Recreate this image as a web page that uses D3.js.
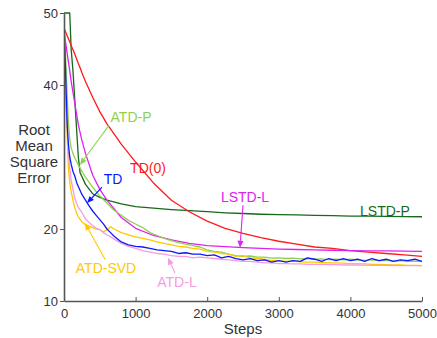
<!DOCTYPE html>
<html>
<head>
<meta charset="utf-8">
<script src="https://cdn.jsdelivr.net/npm/d3@7"></script>
<style>
  html, body { margin: 0; padding: 0; background: #fff; }
  svg text { font-family: "Liberation Sans", Arial, sans-serif; }
</style>
</head>
<body>
<svg id="chart" width="437" height="338"></svg>
<script>
// Step grids: a coarse one for the smooth curves, a fine one for the noisy ones
const stepsCoarse = [0, 50, 80, 100, 125, 150, 200, 225, 250, 300, 400, 500, 600, 800, 1000, 1250, 1500, 1750,
  2000, 2250, 2500, 2750, 3000, 3250, 3500, 3750, 4000, 4250, 4500, 4750, 5000];
const stepsFine = [0, 10, 20, 30, 45, 60, 80, 100, 125, 150, 175, 200, 250, 300, 350, 400, 450, 500,
  550, 600, 650, 700, 800, 900, 1000, 1100, 1200, 1300, 1400, 1500, 1600, 1700, 1800, 1900, 2000,
  2100, 2200, 2300, 2400, 2500, 2600, 2700, 2800, 2900, 3000, 3100, 3200, 3300, 3400, 3500, 3600,
  3700, 3800, 3900, 4000, 4100, 4200, 4300, 4400, 4500, 4600, 4700, 4800, 4900, 5000];

// RMSE per method
const lstdP = [50, 50, 50, 45, 42, 38, 30, 27.8, 27.3, 26.2, 24.9, 24.4, 24.0, 23.5, 23.1, 22.9, 22.7, 22.55,
  22.4, 22.25, 22.15, 22.05, 22.0, 21.95, 21.9, 21.85, 21.8, 21.78, 21.75, 21.72, 21.7];
const td0 = [47.9, 46.7, 46.0, 45.5, 44.9, 44.3, 43.0, 42.4, 41.7, 40.5, 38.3, 36.3, 34.6, 31.8, 29.3, 26.4, 24.0,
  22.4, 21.1, 20.1, 19.4, 18.8, 18.3, 17.9, 17.5, 17.3, 17.0, 16.8, 16.6, 16.4, 16.2];
const lstdL = [47.5, 44.0, 42.0, 40.5, 39.0, 37.5, 34.5, 33.4, 32.3, 30.5, 27.5, 25.5, 24.0, 21.6, 20.1, 19.1, 18.5,
  18.0, 17.7, 17.55, 17.4, 17.3, 17.2, 17.15, 17.1, 17.05, 17.0, 16.97, 16.95, 16.92, 16.9];

const td = [47.5, 45.5, 42.5, 39.0, 34.5, 32.0, 30.0, 29.0, 28.0, 27.4, 26.5, 25.9, 24.8, 24.0, 23.2,
  22.5, 21.9, 21.3, 20.7, 20.0, 19.5, 19.0, 18.2, 17.8, 17.6, 17.5, 17.3, 17.1, 17.0, 16.9, 16.6,
  16.7, 16.5, 16.5, 16.3, 16.4, 16.0, 16.2, 15.9, 15.7, 15.9, 15.6, 15.7, 15.4, 15.6, 15.4, 15.6,
  15.5, 16.0, 15.8, 15.5, 15.9, 15.6, 15.9, 15.6, 15.8, 15.5, 15.9, 15.6, 15.8, 15.5, 15.7, 15.6,
  15.8, 15.5];
const atdP = [48.0, 46.5, 44.5, 42.0, 38.5, 35.0, 32.5, 31.3, 30.5, 29.9, 29.4, 28.9, 28.0, 27.2, 26.5,
  25.8, 25.2, 24.6, 24.1, 23.6, 23.1, 22.6, 21.9, 21.2, 20.7, 20.2, 19.5, 19.1, 18.7, 18.4, 18.1,
  17.9, 17.7, 17.5, 17.1, 16.9, 16.8, 16.5, 16.3, 16.2, 16.25, 16.1, 16.1, 15.95, 16.0, 15.9, 15.95,
  15.85, 15.9, 15.8, 15.85, 15.75, 15.8, 15.7, 15.8, 15.7, 15.65, 15.7, 15.6, 15.65, 15.55, 15.6,
  15.5, 15.55, 15.5];
const atdSvd = [48.0, 44.0, 40.0, 37.5, 33.0, 28.6, 26.5, 25.2, 24.0, 23.0, 22.2, 21.7, 21.0, 20.6, 20.4,
  20.2, 20.0, 19.9, 19.6, 19.9, 20.3, 20.0, 19.5, 19.2, 18.9, 18.7, 18.5, 18.2, 18.0, 17.8, 17.6,
  17.5, 17.3, 17.2, 16.9, 16.8, 16.6, 16.5, 16.2, 16.3, 16.0, 15.9, 15.8, 15.6, 15.6, 15.5, 15.55,
  15.45, 15.4, 15.4, 15.35, 15.3, 15.3, 15.25, 15.2, 15.2, 15.15, 15.1, 15.1, 15.05, 15.0, 15.0,
  14.95, 14.95, 14.9];
const atdL = [48.0, 45.0, 41.0, 37.0, 34.0, 31.0, 28.5, 26.8, 25.5, 24.3, 23.6, 23.0, 22.3, 21.4, 20.9,
  20.5, 20.1, 19.9, 19.5, 19.2, 18.9, 18.6, 18.0, 17.6, 17.3, 17.0, 16.8, 16.6, 16.5, 16.3, 16.2,
  16.2, 16.0, 16.1, 16.0, 15.9, 15.8, 15.7, 15.6, 15.5, 15.5, 15.4, 15.3, 15.3, 15.2, 15.2, 15.15,
  15.15, 15.1, 15.1, 15.1, 15.05, 15.05, 15.0, 15.0, 15.0, 14.98, 14.96, 14.95, 14.95, 14.93, 14.92,
  14.9, 14.9, 14.9];

const xTicks = [0, 1000, 2000, 3000, 4000, 5000];
const yTicks = [10, 20, 40, 50];
const yTitleLines = ["Root", "Mean", "Square", "Error"];

const series = [
  { name: "LSTD-P", steps: stepsCoarse, values: lstdP, color: "#17691b" },
  { name: "TD(0)", steps: stepsCoarse, values: td0, color: "#ff1a1a" },
  { name: "LSTD-L", steps: stepsCoarse, values: lstdL, color: "#dd22ee" },
  { name: "ATD-P", steps: stepsFine, values: atdP, color: "#8fd14f" },
  { name: "ATD-SVD", steps: stepsFine, values: atdSvd, color: "#ffc800" },
  { name: "ATD-L", steps: stepsFine, values: atdL, color: "#f59ce0" },
  { name: "TD", steps: stepsFine, values: td, color: "#0a1aff" }
];

// Label positions and arrow (from -> to) in data units
const labels = [
  { text: "ATD-P", color: "#8fd14f", x: 936, y: 35.6, arrow: [[628, 34.4], [223, 28.9]] },
  { text: "TD(0)", color: "#ff1a1a", x: 1173, y: 28.5 },
  { text: "TD", color: "#0a1aff", x: 684, y: 26.9, arrow: [[531, 25.8], [321, 23.6]] },
  { text: "LSTD-L", color: "#dd22ee", x: 2528, y: 24.4, arrow: [[2500, 23.3], [2458, 17.4]] },
  { text: "LSTD-P", color: "#17691b", x: 4483, y: 22.5 },
  { text: "ATD-SVD", color: "#ffc800", x: 587, y: 14.6, arrow: [[573, 15.8], [293, 20.8]] },
  { text: "ATD-L", color: "#f59ce0", x: 1578, y: 12.6, arrow: [[1550, 13.9], [1452, 16.0]] }
];

const svg = d3.select("#chart");

const x = d3.scaleLinear().domain([0, 5000]).range([64, 422]);
const y = d3.scaleLinear().domain([10, 50]).range([301, 13]);

svg.append("defs").append("clipPath").attr("id", "plot")
  .append("rect").attr("x", x(0)).attr("y", y(50) - 1)
  .attr("width", x(5000) - x(0)).attr("height", y(10) - y(50) + 1);

// Curves
const line = d3.line().x(d => x(d[0])).y(d => y(d[1]));
const g = svg.append("g").attr("clip-path", "url(#plot)");
series.forEach(s => {
  g.append("path")
    .datum(s.steps.map((st, i) => [st, s.values[i]]))
    .attr("d", line)
    .attr("fill", "none")
    .attr("stroke", s.color)
    .attr("stroke-width", 1.3)
    .attr("stroke-linejoin", "round");
});

// Axes: bottom ticks point inward, left ticks outward
const axisColor = "#555";
const xAxis = svg.append("g").attr("transform", `translate(0,${y(10)})`)
  .call(d3.axisBottom(x).tickValues(xTicks).tickFormat(d3.format("d"))
    .tickSizeInner(-4).tickSizeOuter(0).tickPadding(8));
const yAxis = svg.append("g").attr("transform", `translate(${x(0)},0)`)
  .call(d3.axisLeft(y).tickValues(yTicks).tickFormat(d3.format("d"))
    .tickSizeInner(4).tickSizeOuter(0).tickPadding(2));
[xAxis, yAxis].forEach(a => {
  a.select(".domain").attr("stroke", axisColor).attr("stroke-width", 1.6);
  a.selectAll(".tick line").attr("stroke", axisColor).attr("stroke-width", 1);
  a.selectAll(".tick text").attr("fill", "#333").attr("font-size", 13)
    .attr("font-family", "'Liberation Sans', Arial, sans-serif");
});

// Axis titles
svg.append("text").attr("x", x(2500)).attr("y", 334)
  .attr("text-anchor", "middle").attr("font-size", 15).attr("fill", "#333").text("Steps");
const yt = svg.append("text").attr("text-anchor", "middle").attr("font-size", 15).attr("fill", "#333");
yTitleLines.forEach((t, i) => {
  yt.append("tspan").attr("x", 34).attr("y", 135 + i * 16).text(t);
});

// Annotations with arrows
labels.forEach(l => {
  svg.append("text").attr("x", x(l.x)).attr("y", y(l.y) + 5)
    .attr("text-anchor", "middle").attr("font-size", 14).attr("fill", l.color).text(l.text);
  if (l.arrow) {
    const [p0, p1] = l.arrow;
    const x0 = x(p0[0]), y0 = y(p0[1]), x1 = x(p1[0]), y1 = y(p1[1]);
    const ang = Math.atan2(y1 - y0, x1 - x0);
    const hl = 7, hw = 3;
    const bx = x1 - hl * Math.cos(ang), by = y1 - hl * Math.sin(ang);
    svg.append("line").attr("x1", x0).attr("y1", y0).attr("x2", bx).attr("y2", by)
      .attr("stroke", l.color).attr("stroke-width", 1.1);
    svg.append("path")
      .attr("d", `M${x1},${y1}L${bx + hw * Math.sin(ang)},${by - hw * Math.cos(ang)}L${bx - hw * Math.sin(ang)},${by + hw * Math.cos(ang)}Z`)
      .attr("fill", l.color);
  }
});
</script>
</body>
</html>
